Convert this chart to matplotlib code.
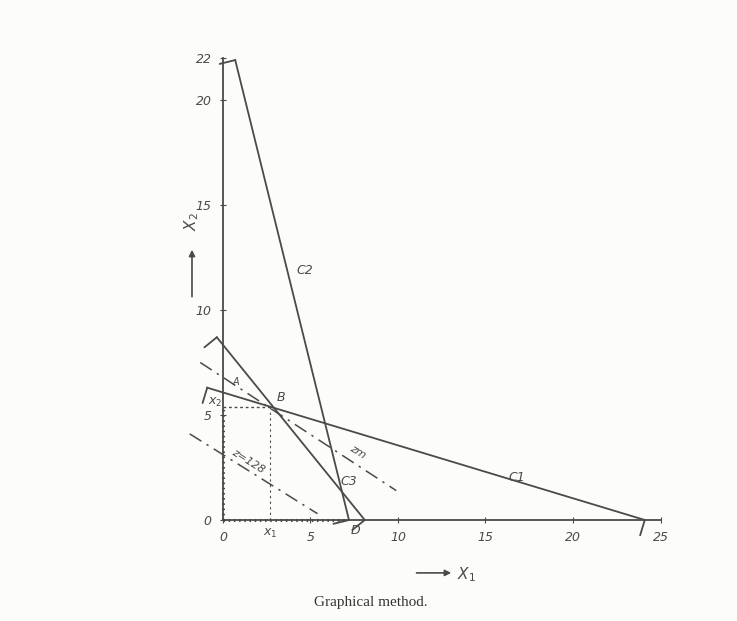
import numpy as np
import matplotlib.pyplot as plt

# 约束线端点
c1_x = [-0.9, 24.1]
c1_y = [6.3, 0.0]
c2_x = [0.7, 7.2]
c2_y = [21.9, 0.0]
c3_x = [-0.35, 8.1]
c3_y = [8.7, 0.0]

# 目标函数线
z128_x = [-1.9, 5.4]
z128_y = [4.1, 0.3]
zmin_x = [-1.3, 9.9]
zmin_y = [7.5, 1.4]

# 最优点 B
B = (2.7, 5.4)
D_x = 7.0

x_ticks = [0, 5, 10, 15, 20, 25]
y_ticks = [0, 5, 10, 15, 20, 22]

ink = '#4a4a4a'
hand = dict(family='DejaVu Sans', style='italic', color=ink)

fig = plt.figure(figsize=(7.37, 6.21), dpi=100, facecolor='#fcfcfa')
ax = fig.add_axes([0, 0, 1, 1])
ax.set_facecolor('#fcfcfa')
ax.set_xlim(-12.74, 29.37)
ax.set_ylim(-4.81, 24.76)

# 坐标轴
for s in ['top', 'right']:
    ax.spines[s].set_visible(False)
ax.spines['left'].set_position(('data', 0))
ax.spines['bottom'].set_position(('data', 0))
ax.spines['left'].set_bounds(0, 22)
ax.spines['bottom'].set_bounds(0, 25)
for s in ['left', 'bottom']:
    ax.spines[s].set_color(ink)
    ax.spines[s].set_linewidth(1.3)
ax.set_xticks(x_ticks)
ax.set_yticks(y_ticks)
ax.set_xticklabels([str(t) for t in x_ticks], fontsize=9, **hand)
ax.set_yticklabels([str(t) for t in y_ticks], fontsize=9, **hand)
ax.tick_params(direction='inout', length=4, color=ink, pad=6)


def hook(x, y, end, length=16):
    # 在线段端点画一个指向可行域的小钩
    p = ax.transData.transform(np.column_stack([x, y]))
    a, b = (p[0], p[1]) if end == 0 else (p[1], p[0])
    d = b - a
    n = np.array([-d[1], d[0]]) / np.hypot(*d)
    o = ax.transData.transform((0, 0))
    if np.dot(o - a, n) < 0:
        n = -n
    q = ax.transData.inverted().transform([a, a + n * length])
    ax.plot(q[:, 0], q[:, 1], color=ink, lw=1.3, solid_capstyle='round')


for xs, ys in [(c1_x, c1_y), (c2_x, c2_y), (c3_x, c3_y)]:
    ax.plot(xs, ys, color=ink, lw=1.3)
    hook(xs, ys, 0)
    hook(xs, ys, 1)

# 目标函数线 (点划线)
ax.plot(z128_x, z128_y, color=ink, lw=1.1, ls=(0, (9, 4, 1.5, 4)))
ax.plot(zmin_x, zmin_y, color=ink, lw=1.1, ls=(0, (9, 4, 1.5, 4)))

# B 到坐标轴的虚线及阴影边界
ax.plot([0, B[0]], [B[1], B[1]], color=ink, lw=1.0, ls=(0, (2, 2)))
ax.plot([B[0], B[0]], [0, B[1]], color=ink, lw=0.8, ls=(0, (2, 3)))
ax.plot([0, 0], [0, B[1]], color=ink, lw=2.2, ls=(0, (0.5, 1.2)))
ax.plot([0, D_x], [0, 0], color=ink, lw=2.2, ls=(0, (0.5, 1.2)))

# 标注
ax.text(4.7, 11.9, 'C2', fontsize=9, ha='center', va='center', **hand)
ax.text(16.8, 2.0, 'C1', fontsize=9, ha='center', va='center', **hand)
ax.text(7.2, 1.85, 'C3', fontsize=9, ha='center', va='center', **hand)
ax.text(3.3, 5.85, 'B', fontsize=9, ha='center', va='center', **hand)
ax.text(0.75, 6.55, 'A', fontsize=7, ha='center', va='center', **hand)
ax.text(7.55, -0.5, 'D', fontsize=9, ha='center', va='center', **hand)
ax.text(-0.45, 5.6, '$x_2$', fontsize=9, ha='center', va='center', color=ink)
ax.text(B[0], -0.65, '$x_1$', fontsize=9, ha='center', va='center', color=ink)
ax.text(1.45, 2.8, 'z=128', fontsize=8, rotation=-32, ha='center', va='center', **hand)
ax.text(7.7, 3.25, 'zm', fontsize=8, rotation=-32, ha='center', va='center', **hand)

# 轴名称及箭头
ax.annotate('', xy=(13.2, -2.52), xytext=(10.9, -2.52),
            arrowprops=dict(arrowstyle='-|>', color=ink, lw=1.2, mutation_scale=9))
ax.text(13.9, -2.6, '$X_1$', fontsize=11, ha='center', va='center', color=ink)
ax.annotate('', xy=(-1.77, 13.0), xytext=(-1.77, 10.5),
            arrowprops=dict(arrowstyle='-|>', color=ink, lw=1.2, mutation_scale=9))
ax.text(-1.77, 14.2, '$X_2$', fontsize=11, rotation=90, ha='center', va='center', color=ink)

fig.text(0.503, 0.029, 'Graphical method.', fontsize=11, family='Liberation Serif',
         ha='center', va='center', color='#333333')

fig.savefig('out.png', dpi=100, facecolor=fig.get_facecolor())
